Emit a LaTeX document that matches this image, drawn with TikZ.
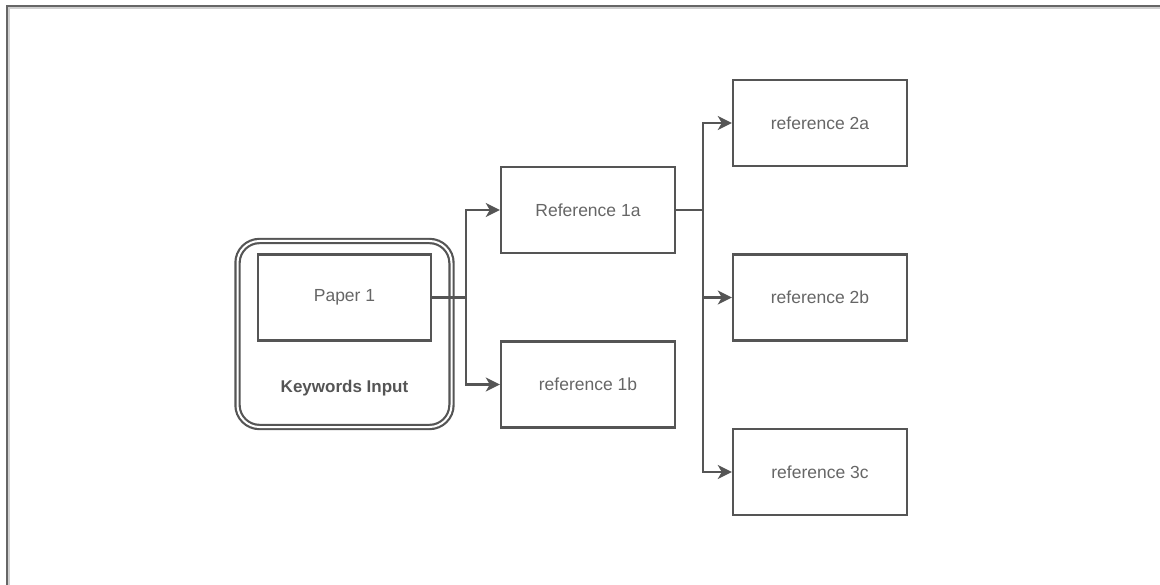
\documentclass[tikz,border=0pt]{standalone}
\usepackage{fontspec}
\setmainfont{Liberation Sans}
\usetikzlibrary{arrows.meta}
\definecolor{edge}{HTML}{555555}
\definecolor{txt}{HTML}{666666}
\definecolor{halo}{HTML}{D0D0D0}
\tikzset{
  refbox/.style={draw=edge, line width=2.4pt, minimum width=174pt, minimum height=86pt,
    inner sep=0pt, text=txt, font=\fontsize{17.5pt}{21pt}\selectfont},
  link/.style={draw=edge, line width=2.4pt, -{Stealth[length=14pt,width=14pt,inset=4pt]}},
  trunk/.style={draw=edge, line width=2.4pt}
}
\begin{document}
\begin{tikzpicture}[x=1pt,y=-1pt]
  \useasboundingbox (0,0) rectangle (1160,585);
  % open frame (top and left sides)
  \draw[halo, line width=2pt] (8.5,585) -- (8.5,8.5) -- (1160,8.5);
  \draw[edge!90!white, line width=2.4pt] (6.8,585) -- (6.8,6.2) -- (1160,6.2);

  % keywords input container
  \node[draw=edge, double=white, double distance=2pt, line width=2.2pt,
        rounded corners=22pt, minimum width=214pt, minimum height=186pt]
        (kw) at (344.5,334) {};
  \node[font=\bfseries\fontsize{17pt}{20pt}\selectfont, text=edge] (kwl) at (344.5,388) {Keywords Input};
  \node[refbox, minimum width=173pt, minimum height=86pt] (p1) at (344.5,297.5) {Paper 1};

  % reference boxes
  \node[refbox] (r1a) at (588,210) {Reference 1a};
  \node[refbox] (r1b) at (588,384.5) {reference 1b};
  \node[refbox] (r2a) at (820,123) {reference 2a};
  \node[refbox] (r2b) at (820,297.5) {reference 2b};
  \node[refbox] (r3c) at (820,472) {reference 3c};

  % branch points
  \coordinate (j1) at (466,297.5);
  \coordinate (j2) at (703,210);

  % connectors
  \draw[trunk] (p1.east) -- (j1);
  \draw[link] (j1) |- (r1a.west);
  \draw[link] (j1) |- (r1b.west);
  \draw[trunk] (r1a.east) -- (j2);
  \draw[link] (j2) |- (r2a.west);
  \draw[link] (j2) |- (r2b.west);
  \draw[link] (j2) |- (r3c.west);
\end{tikzpicture}
\end{document}
